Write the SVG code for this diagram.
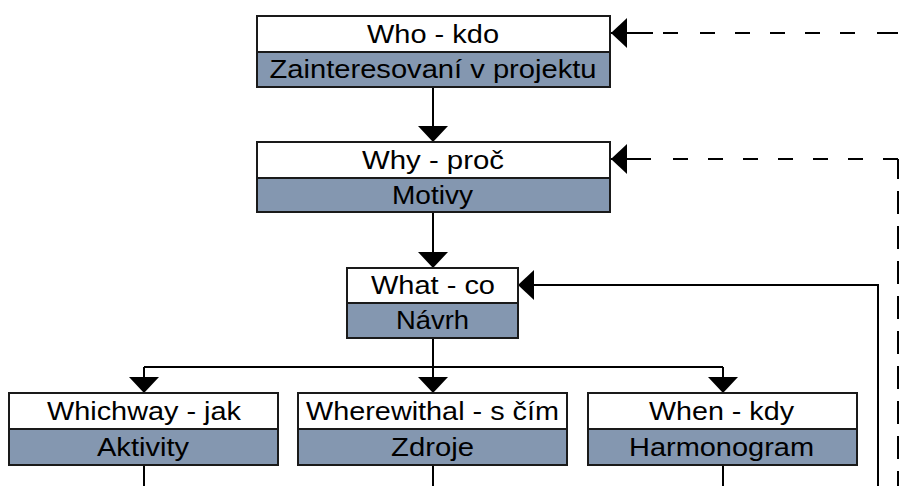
<svg xmlns="http://www.w3.org/2000/svg" width="909" height="486" viewBox="0 0 909 486">
<defs>
<style>
.top{fill:#ffffff;stroke:#1a1a1a;stroke-width:2}
.bot{fill:#8497b0;stroke:#1a1a1a;stroke-width:2}
text{font-family:"Liberation Sans",Arial,sans-serif;font-size:25px;fill:#000;text-anchor:middle}
.ln{fill:none;stroke:#000;stroke-width:2}
</style>
<marker id="ah" viewBox="0 0 16 30" refX="16" refY="15" markerWidth="16" markerHeight="30" markerUnits="userSpaceOnUse" orient="auto">
<path d="M0,0 L16,15 L0,30 z" fill="#000"/>
</marker>
</defs>
<rect width="909" height="486" fill="#ffffff"/>
<g id="connectors">
<path class="ln" d="M433 87 V142" marker-end="url(#ah)"/>
<path class="ln" d="M433 212 V268" marker-end="url(#ah)"/>
<path class="ln" d="M433 338 V367"/>
<path class="ln" d="M144 367 H723"/>
<path class="ln" d="M144 367 V393" marker-end="url(#ah)"/>
<path class="ln" d="M433 367 V393" marker-end="url(#ah)"/>
<path class="ln" d="M723 367 V393" marker-end="url(#ah)"/>
<path class="ln" d="M144 465 V486"/>
<path class="ln" d="M433 465 V486"/>
<path class="ln" d="M723 465 V486"/>
<path class="ln" d="M878 486 V285 H518" marker-end="url(#ah)"/>
<path class="ln" d="M898 33 H611" stroke-dasharray="21 22 15 20 15 20 15 20 15 20 15 22 15 10 60" marker-end="url(#ah)"/>
<path class="ln" d="M898 159 V486" stroke-dasharray="23 12" stroke-dashoffset="3"/>
<path class="ln" d="M898 159 H611" stroke-dasharray="15 20 15 20 15 20 15 20 15 20 15 20 15 22 60" marker-end="url(#ah)"/>
</g>
<g id="who">
<rect class="top" x="257" y="16" width="353" height="36"/>
<rect class="bot" x="257" y="52" width="353" height="35"/>
<text x="433" y="43" textLength="132" lengthAdjust="spacingAndGlyphs">Who - kdo</text>
<text x="433" y="77.5" textLength="327" lengthAdjust="spacingAndGlyphs">Zainteresovaní v projektu</text>
</g>
<g id="why">
<rect class="top" x="257" y="142" width="353" height="36"/>
<rect class="bot" x="257" y="178" width="353" height="34"/>
<text x="433" y="168.5" textLength="142" lengthAdjust="spacingAndGlyphs">Why - proč</text>
<text x="432.5" y="203.5" textLength="81" lengthAdjust="spacingAndGlyphs">Motivy</text>
</g>
<g id="what">
<rect class="top" x="347" y="268" width="171" height="35"/>
<rect class="bot" x="347" y="303" width="171" height="35"/>
<text x="433" y="294" textLength="124" lengthAdjust="spacingAndGlyphs">What - co</text>
<text x="432.5" y="329" textLength="73" lengthAdjust="spacingAndGlyphs">Návrh</text>
</g>
<g id="whichway">
<rect class="top" x="9" y="393" width="269" height="36"/>
<rect class="bot" x="9" y="429" width="269" height="36"/>
<text x="144" y="419.5" textLength="194" lengthAdjust="spacingAndGlyphs">Whichway - jak</text>
<text x="143" y="455.5" textLength="92" lengthAdjust="spacingAndGlyphs">Aktivity</text>
</g>
<g id="wherewithal">
<rect class="top" x="298" y="393" width="269" height="36"/>
<rect class="bot" x="298" y="429" width="269" height="36"/>
<text x="432.5" y="419.5" textLength="253" lengthAdjust="spacingAndGlyphs">Wherewithal - s čím</text>
<text x="432.5" y="455.5" textLength="83" lengthAdjust="spacingAndGlyphs">Zdroje</text>
</g>
<g id="when">
<rect class="top" x="588" y="393" width="269" height="36"/>
<rect class="bot" x="588" y="429" width="269" height="36"/>
<text x="721.5" y="419.5" textLength="145" lengthAdjust="spacingAndGlyphs">When - kdy</text>
<text x="721.5" y="455.5" textLength="185" lengthAdjust="spacingAndGlyphs">Harmonogram</text>
</g>
</svg>
